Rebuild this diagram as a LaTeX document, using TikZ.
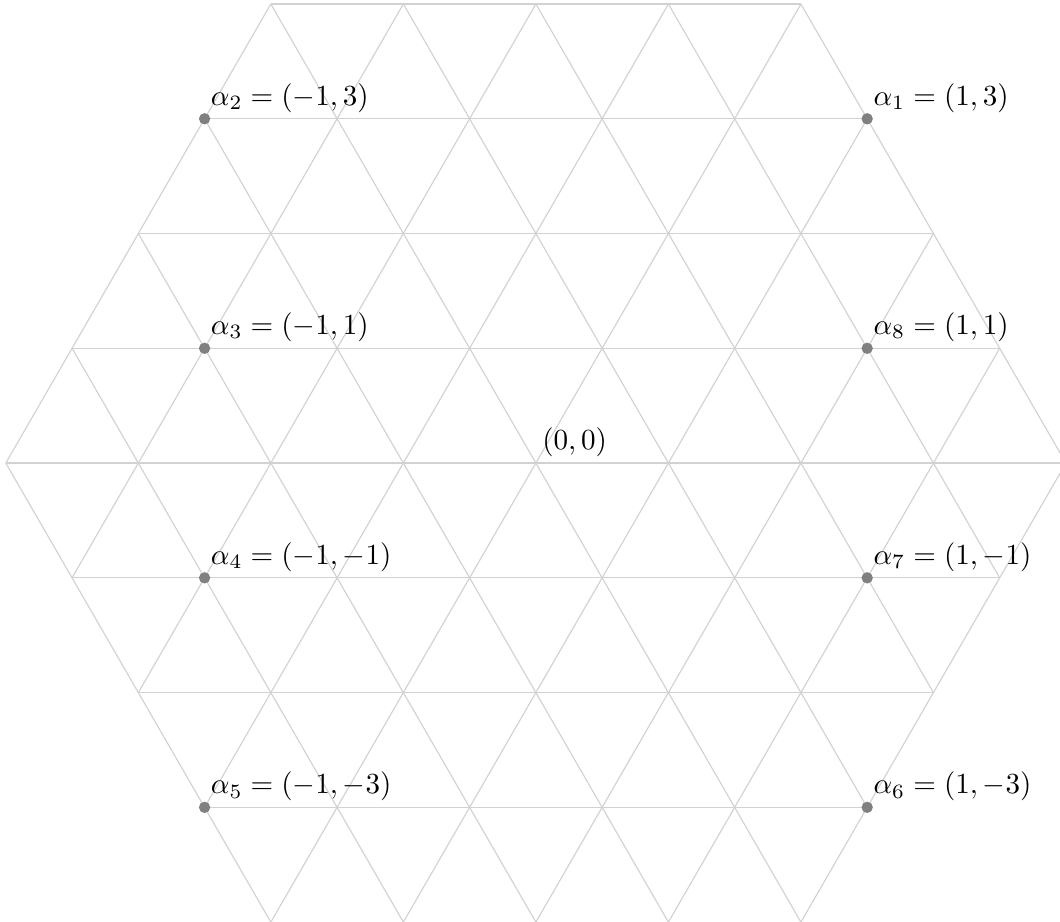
\documentclass[tikz,border=0pt]{standalone}
\begin{document}
\begin{tikzpicture}[
    latline/.style={gray!35},
    rootdot/.style={fill=gray},
    rootlabel/.style={above right,inner sep=2pt}]
  \def\s{1.6}
  \def\h{1.3856}
  \useasboundingbox (-6.47,-5.535) rectangle (6.328,5.591);
  % triangular lattice in the hexagon, three directions
  \foreach \r in {0,60,120}{
    \begin{scope}[rotate=\r]
      \foreach \k in {-4,...,4}{
        \pgfmathsetmacro\w{(4-abs(\k)/2)*\s}
        \draw[latline] (-\w,\k*\h) -- (\w,\k*\h);
      }
    \end{scope}
  }
  \coordinate (o) at (0,0);
  \node[rootlabel] (olab) at (o) {$(0,0)$};
  \foreach \n/\x/\y in {1/1/3,2/-1/3,3/-1/1,4/-1/-1,5/-1/-3,6/1/-3,7/1/-1,8/1/1}{
    \coordinate (p\n) at (2.5*\x*\s,\y*\h);
    \fill[rootdot] (p\n) circle (1.95pt);
    \node[rootlabel] (a\n) at (p\n) {$\alpha_\n=(\x,\y)$};
  }
\end{tikzpicture}
\end{document}
